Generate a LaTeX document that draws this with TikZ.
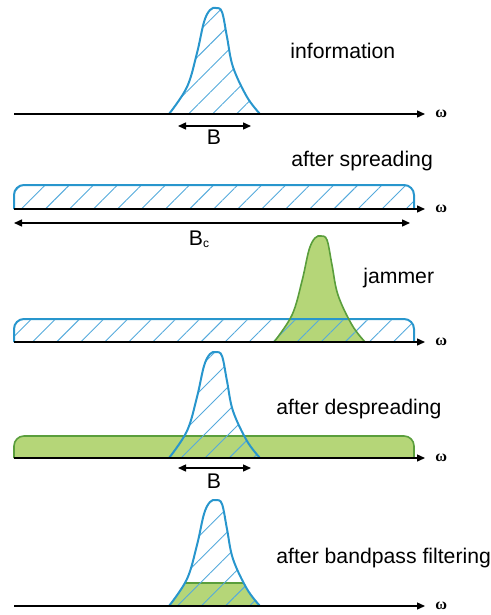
\documentclass[tikz,border=0pt]{standalone}
\usepackage{amsmath, amssymb}
\usepackage{fontspec}
\setmainfont{Liberation Sans}
\newfontfamily\omgfont{Liberation Serif}
\usepackage{tikz}
\usetikzlibrary{arrows.meta, patterns.meta}
\usepackage{xcolor}
\definecolor{specblue}{HTML}{2896CD}
\definecolor{hatchblue}{HTML}{55AADC}
\definecolor{jamgreen}{HTML}{B5D678}
\definecolor{jamedge}{HTML}{5A9E3C}

\def\pulsepath{plot[smooth, tension=0.6] coordinates {(-46,0) (-28,-27) (-18,-61)
  (-11,-92) (-5,-104) (1,-106) (7,-102) (12,-77) (18,-47) (32,-17) (45,0)}}

\begin{document}
\begin{tikzpicture}[x=0.5pt, y=-0.5pt,
    axis/.style={-{Triangle[length=4pt, width=3.5pt]}, line width=0.7pt, shorten >=5pt},
    span/.style={{Triangle[length=4pt, width=3.5pt]}-{Triangle[length=4pt, width=3.5pt]},
                 line width=0.7pt},
    lab/.style={font=\fontsize{10.6}{12}\selectfont, inner sep=0pt, anchor=base west},
    blab/.style={font=\fontsize{10.6}{12}\selectfont, inner sep=0pt, anchor=base},
    omg/.style={font=\omgfont\bfseries\fontsize{8}{9}\selectfont, inner sep=0pt, anchor=west},
    sig/.style={draw=specblue, line width=1pt},
    hatch/.style={pattern={Lines[angle=45, distance=8.5pt, line width=0.45pt]},
                  pattern color=hatchblue},
    jam/.style={fill=jamgreen},
    jamline/.style={draw=jamedge, line width=0.8pt},
  ]
    \useasboundingbox (0,0) rectangle (491,615);

    % information
    \path[hatch, shift={(215,114)}] \pulsepath;
    \draw[sig, shift={(215,114)}] \pulsepath;
    \coordinate (ax1) at (14,114);
    \node[omg] (om1) at (435,114) {ω};
    \draw[axis] (ax1) -- (om1.west);
    \coordinate (b1a) at (178,126);
    \coordinate (b1b) at (251,126);
    \draw[span] (b1a) -- (b1b);
    \node[blab] (bw1) at (214,144) {B};
    \node[lab] (info) at (290,59) {information};

    % after spreading
    \path[hatch, rounded corners=5pt] (14,209) -- (14,185) -- (414,185) -- (414,209);
    \draw[sig, rounded corners=5pt] (14,209) -- (14,185) -- (414,185) -- (414,209);
    \coordinate (ax2) at (14,209);
    \node[omg] (om2) at (435,209) {ω};
    \draw[axis] (ax2) -- (om2.west);
    \coordinate (bc1) at (14,223);
    \coordinate (bc2) at (410,223);
    \draw[span] (bc1) -- (bc2);
    \node[blab] (bwc) at (199,245) {B{\fontsize{6}{7}\selectfont\raisebox{-0.4ex}{c}}};
    \node[lab] (spread) at (291,166) {after spreading};

    % jammer
    \fill[jam, shift={(320,342)}] \pulsepath;
    \path[hatch, rounded corners=5pt] (14,342) -- (14,319) -- (414,319) -- (414,342);
    \draw[sig, rounded corners=5pt] (14,342) -- (14,319) -- (414,319) -- (414,342);
    \draw[jamline, shift={(320,342)}] \pulsepath;
    \coordinate (ax3) at (14,342);
    \node[omg] (om3) at (435,342) {ω};
    \draw[axis] (ax3) -- (om3.west);
    \node[lab] (jammer) at (363,283) {jammer};

    % after despreading
    \fill[jam, rounded corners=5pt] (14,458) -- (14,436) -- (414,436) -- (414,458);
    \draw[jamline, rounded corners=5pt] (14,458) -- (14,436) -- (414,436) -- (414,458);
    \path[hatch, shift={(215,458)}] \pulsepath;
    \draw[sig, shift={(215,458)}] \pulsepath;
    \coordinate (ax4) at (14,458);
    \node[omg] (om4) at (435,458) {ω};
    \draw[axis] (ax4) -- (om4.west);
    \coordinate (b4a) at (178,468);
    \coordinate (b4b) at (251,468);
    \draw[span] (b4a) -- (b4b);
    \node[blab] (bw4) at (214,488) {B};
    \node[lab] (despread) at (276,414) {after despreading};

    % after bandpass filtering
    \begin{scope}[shift={(215,606)}]
      \clip \pulsepath;
      \fill[jam] (-50,0) rectangle (50,-23);
      \draw[jamline] (-50,-23) -- (50,-23);
    \end{scope}
    \path[hatch, shift={(215,606)}] \pulsepath;
    \draw[sig, shift={(215,606)}] \pulsepath;
    \coordinate (ax5) at (14,606);
    \node[omg] (om5) at (435,606) {ω};
    \draw[axis] (ax5) -- (om5.west);
    \node[lab] (bpf) at (276,563) {after bandpass filtering};
  \end{tikzpicture}
\end{document}
